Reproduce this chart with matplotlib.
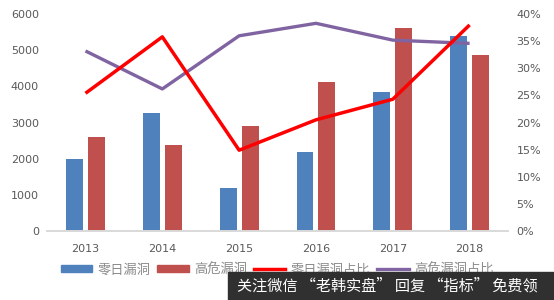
import numpy as np
import matplotlib.pyplot as plt
from matplotlib.patches import Patch, Rectangle
from matplotlib.lines import Line2D
from matplotlib.ticker import FuncFormatter

plt.rcParams['font.family'] = ['Noto Sans CJK SC', 'DejaVu Sans']

### data
years = ["2013", "2014", "2015", "2016", "2017", "2018"]
zero_day = [2000, 3260, 1190, 2180, 3840, 5390]
high_risk = [2600, 2380, 2900, 4120, 5610, 4860]
zero_day_pct = [25.4, 35.8, 14.9, 20.5, 24.3, 38.0]
high_risk_pct = [33.2, 26.2, 36.0, 38.3, 35.2, 34.6]

### colors
c_blue = "#4F81BD"
c_red = "#C0504D"
c_line_red = "#FF0000"
c_purple = "#8064A2"
c_txt = "#595959"

fig = plt.figure(figsize=(5.54, 3.0), dpi=100)
ax = fig.add_axes([0.085, 0.23, 0.832, 0.723])
ax2 = ax.twinx()

x = np.arange(len(years))
w = 0.22
off = 0.143
ax.bar(x - off, zero_day, w, color=c_blue, zorder=2)
ax.bar(x + off, high_risk, w, color=c_red, zorder=2)

ax2.plot(x, high_risk_pct, color=c_purple, lw=2.4, solid_capstyle="butt", zorder=3)
ax2.plot(x, zero_day_pct, color=c_line_red, lw=2.5, solid_capstyle="butt", zorder=4)

ax.set_xlim(-0.5, 5.5)
ax.set_ylim(0, 6000)
ax2.set_ylim(0, 40)
ax.set_yticks(range(0, 6001, 1000))
ax2.set_yticks(range(0, 41, 5))
ax2.yaxis.set_major_formatter(FuncFormatter(lambda v, p: "%d%%" % v))
ax.set_xticks(x)
ax.set_xticklabels(years)

for a in (ax, ax2):
    for s in ("top", "left", "right"):
        a.spines[s].set_visible(False)
    a.spines["bottom"].set_color("#D9D9D9")
    a.spines["bottom"].set_linewidth(1.2)
    a.tick_params(length=0, labelsize=8, labelcolor=c_txt, pad=6)
    for t in a.get_yticklabels() + a.get_xticklabels():
        t.set_family("DejaVu Sans")
ax.tick_params(axis="x", pad=9)

### legend
handles = [
    Patch(color=c_blue),
    Patch(color=c_red),
    Line2D([], [], color=c_line_red, lw=2.5),
    Line2D([], [], color=c_purple, lw=2.4),
]
labels = ["零日漏洞", "高危漏洞", "零日漏洞占比", "高危漏洞占比"]
fig.legend(handles, labels, loc="center", bbox_to_anchor=(0.5, 0.1), ncol=4,
           frameon=False, fontsize=9.5, labelcolor="#8C8C8C",
           handlelength=2.4, handleheight=0.45, handletextpad=0.4, columnspacing=0.5)

### watermark banner
fig.patches.append(Rectangle((228 / 554, 0), 1 - 228 / 554, 28 / 300,
                             transform=fig.transFigure, color="#303030", zorder=10))
fig.text(237 / 554, 14 / 300, "关注微信 “老韩实盘” 回复 “指标” 免费领", color="white",
         fontsize=10.9, va="center", ha="left", zorder=11)

plt.savefig("out.png", dpi=100)
